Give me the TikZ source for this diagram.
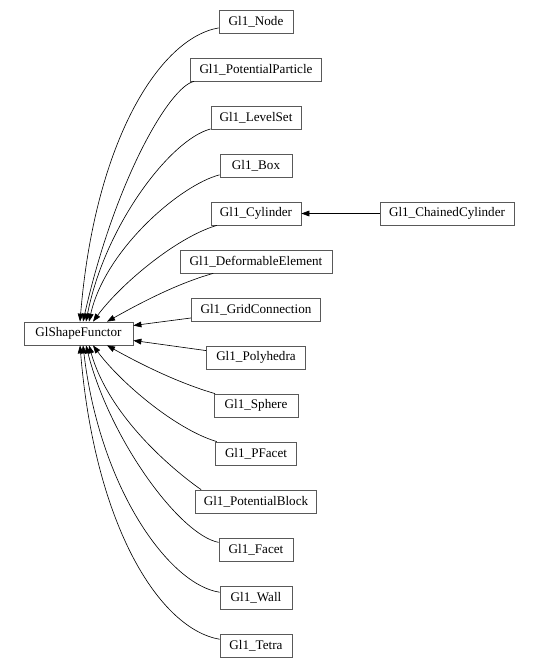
\documentclass[tikz,border=0pt]{standalone}
\usepackage{fontspec}
\setmainfont{Liberation Serif}
\usetikzlibrary{arrows.meta}
\tikzstyle{every node}=[draw=black!65,line width=0.6pt,inner sep=0pt,minimum height=18.4pt,font=\fontsize{10.5}{12}\selectfont]
\tikzstyle{derived}=[draw=black,line width=0.5pt,-{Triangle[length=6.4pt,width=4.6pt]}]

\begin{document}
\begin{tikzpicture}[x=0.8pt,y=-0.8pt]
  \useasboundingbox (0,0) rectangle (539,668);
  % base class
  \node [minimum width=87.2pt] (gsf) at (78.5,333.5) {GlShapeFunctor};
  % derived functors
  \node [minimum width=59.2pt] (node) at (256,21.5) {Gl1\_Node};
  \node [minimum width=104.8pt] (pp) at (256,69.5) {Gl1\_PotentialParticle};
  \node [minimum width=72pt] (ls) at (256,117.5) {Gl1\_LevelSet};
  \node [minimum width=57.6pt] (box) at (256,165.5) {Gl1\_Box};
  \node [minimum width=72pt] (cyl) at (256,213.5) {Gl1\_Cylinder};
  \node [minimum width=107.2pt] (cc) at (447,213.5) {Gl1\_ChainedCylinder};
  \node [minimum width=121.6pt] (de) at (256,261.5) {Gl1\_DeformableElement};
  \node [minimum width=103.2pt] (gc) at (256,309.5) {Gl1\_GridConnection};
  \node [minimum width=79.2pt] (poly) at (256,357.5) {Gl1\_Polyhedra};
  \node [minimum width=67.2pt] (sph) at (256,405.5) {Gl1\_Sphere};
  \node [minimum width=64.8pt] (pf) at (256,453.5) {Gl1\_PFacet};
  \node [minimum width=96.8pt] (pb) at (256,501.5) {Gl1\_PotentialBlock};
  \node [minimum width=59.2pt] (fac) at (256,549.5) {Gl1\_Facet};
  \node [minimum width=57.6pt] (wall) at (256,597.5) {Gl1\_Wall};
  \node [minimum width=57.6pt] (tet) at (256,645.5) {Gl1\_Tetra};

  \draw[derived] (node) .. controls (160,38) and (95,140) .. ([xshift=1.2pt]gsf.north);
  \draw[derived] (pp) .. controls (170,86) and (115,180) .. ([xshift=3.6pt]gsf.north);
  \draw[derived] (ls) .. controls (171,139) and (105,225) .. ([xshift=6pt]gsf.north);
  \draw[derived] (box) .. controls (180,185) and (105,250) .. ([xshift=8.4pt]gsf.north);
  \draw[derived] (cyl) .. controls (175,238) and (120,285) .. ([xshift=11.6pt]gsf.north);
  \draw[derived] (de) .. controls (175,284) and (135,306) .. ([xshift=22.8pt]gsf.north);
  \draw[derived] (gc) -- ([yshift=6.4pt]gsf.east);
  \draw[derived] (poly) -- ([yshift=-5.6pt]gsf.east);
  \draw[derived] (sph) .. controls (175,382) and (135,361) .. ([xshift=22.8pt]gsf.south);
  \draw[derived] (pf) .. controls (175,429) and (120,382) .. ([xshift=11.6pt]gsf.south);
  \draw[derived] ([xshift=4.8pt]pb.north west) .. controls (180,475) and (110,420) .. ([xshift=8.4pt]gsf.south);
  \draw[derived] (fac) .. controls (180,535) and (110,440) .. ([xshift=6pt]gsf.south);
  \draw[derived] (wall) .. controls (170,585) and (100,490) .. ([xshift=3.6pt]gsf.south);
  \draw[derived] (tet) .. controls (160,629) and (95,527) .. ([xshift=1.2pt]gsf.south);
  \draw[derived] (cc) -- (cyl);
\end{tikzpicture}
\end{document}
